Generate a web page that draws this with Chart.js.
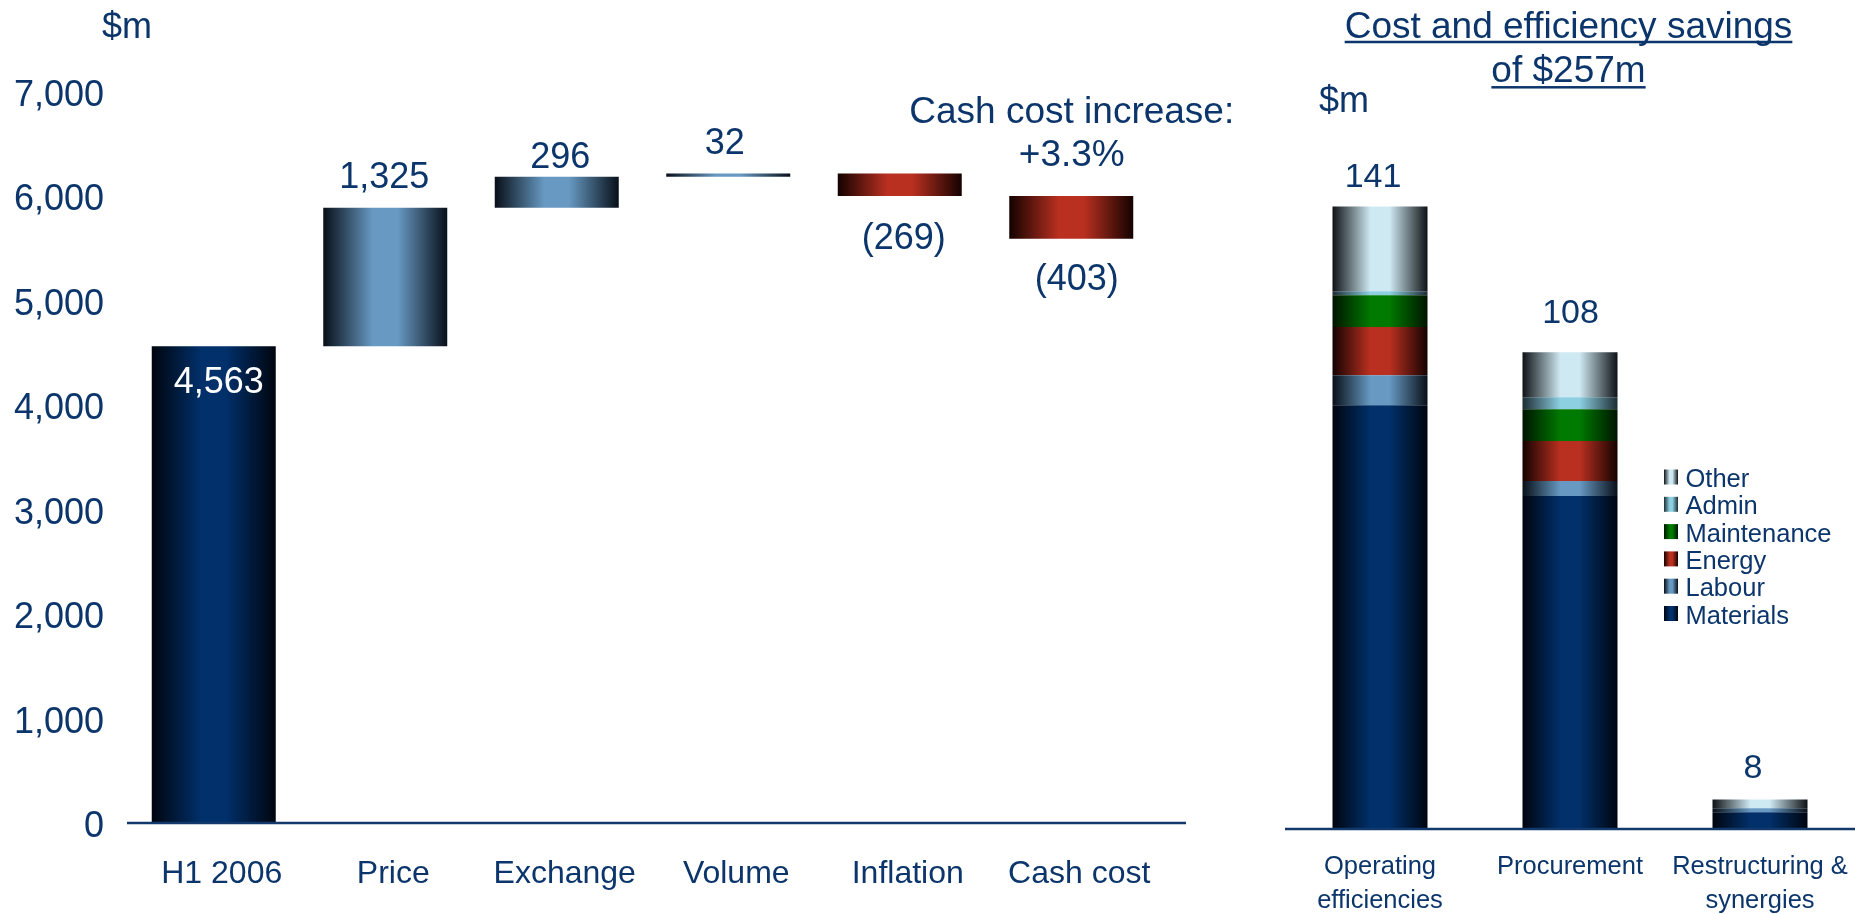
<!DOCTYPE html>
<html>
<head>
<meta charset="utf-8">
<script src="https://cdn.jsdelivr.net/npm/chart.js@4.4.1/dist/chart.umd.min.js"></script>
<style>
html,body{margin:0;padding:0;background:#ffffff;overflow:hidden;}
#wrap{position:relative;width:1855px;height:914px;}
canvas{position:absolute;top:0;}
#leftChart{left:0;width:1240px;height:914px;}
#rightChart{left:1240px;width:615px;height:914px;}
</style>
</head>
<body>
<div id="wrap">
<canvas id="leftChart" width="1240" height="914"></canvas>
<canvas id="rightChart" width="615" height="914"></canvas>
</div>
<script>
// ---------- DATA: waterfall (left) ----------
const categories = ['H1 2006', 'Price', 'Exchange', 'Volume', 'Inflation', 'Cash cost'];
const barStart = [0, 4563, 5888, 6184, 6216, 6000];
const barEnd = [4563, 5888, 6184, 6216, 6000, 5590];
const valueLabels = ['4,563', '1,325', '296', '32', '(269)', '(403)'];
const noteLines = ['Cash cost increase:', '+3.3%'];
const unitLabel = '$m';
const yAxisMax = 7000;
const yAxisStep = 1000;

// ---------- DATA: savings (right) ----------
const savingsCategories = [['Operating', 'efficiencies'], 'Procurement', ['Restructuring &', 'synergies']];
const seriesNames = ['Materials', 'Labour', 'Energy', 'Maintenance', 'Admin', 'Other'];
const materials = [96.0, 75.4, 3.8];
const labour = [6.8, 3.4, 0.9];
const energy = [10.9, 9.1, 0];
const maintenance = [7.2, 7.2, 0];
const admin = [0.9, 2.7, 0];
const other = [19.2, 10.2, 2.0];
const savingsTotals = ['141', '108', '8'];
const savingsTitle = ['Cost and efficiency savings', 'of $257m'];
const savingsAxisMax = 160;

// ---------- STYLE ----------
const FONT = '"Liberation Sans", Arial, Helvetica, sans-serif';
const TEXT = '#0b356b';
const AXIS = '#12386c';
const PAL = {
  navy:  ['#01306a', '#00050e'],
  blue:  ['#6799c2', '#080f18'],
  red:   ['#ba3020', '#140200'],
  green: ['#007a00', '#001400'],
  admin: ['#8dd0e2', '#1c2c34'],
  other: ['#cfe9f2', '#0e1216']
};
const leftPalette = [PAL.navy, PAL.blue, PAL.blue, PAL.blue, PAL.red, PAL.red];
const rightPalette = [PAL.navy, PAL.blue, PAL.red, PAL.green, PAL.admin, PAL.other];

Chart.defaults.font.family = FONT;
Chart.defaults.color = TEXT;

function makeGrad(ctx, x0, x1, pal) {
  const g = ctx.createLinearGradient(x0, 0, x1, 0);
  g.addColorStop(0, pal[1]);
  g.addColorStop(0.4, pal[0]);
  g.addColorStop(0.6, pal[0]);
  g.addColorStop(1, pal[1]);
  return g;
}
function gradFill(getPal, pct) {
  return (c) => {
    const chart = c.chart, area = chart.chartArea, i = c.dataIndex;
    const pal = getPal(i === undefined ? 0 : i);
    if (!area || i === undefined || !chart.scales || !chart.scales.x) return pal[0];
    const xs = chart.scales.x;
    const cx = xs.getPixelForValue(i);
    const bw = xs.width / chart.data.labels.length * pct;
    return makeGrad(chart.ctx, cx - bw / 2, cx + bw / 2, pal);
  };
}

// ---------- LEFT CHART ----------
const LEFT_PCT = 0.723;
const leftDecor = {
  id: 'leftDecor',
  afterDatasetsDraw(chart, args, opts) {
    const ctx = chart.ctx, area = chart.chartArea;
    ctx.save();
    ctx.strokeStyle = AXIS; ctx.lineWidth = 2.5;
    ctx.beginPath();
    ctx.moveTo(area.left - 1, area.bottom);
    ctx.lineTo(area.right + opts.axisExtend, area.bottom);
    ctx.stroke();
    const meta = chart.getDatasetMeta(0);
    ctx.textAlign = 'center'; ctx.textBaseline = 'alphabetic';
    ctx.font = '36px ' + FONT;
    meta.data.forEach((bar, i) => {
      const s = opts.styles[i];
      const top = Math.min(bar.y, bar.base), bot = Math.max(bar.y, bar.base);
      ctx.fillStyle = s.color || TEXT;
      ctx.fillText(valueLabels[i], bar.x + s.dx, (s.anchor === 'top' ? top : bot) + s.dy);
    });
    const cb = meta.data[categories.length - 1];
    const cTop = Math.min(cb.y, cb.base);
    ctx.fillStyle = TEXT;
    ctx.font = '37px ' + FONT;
    ctx.fillText(noteLines[0], cb.x + 0.5, cTop - 73.5);
    ctx.fillText(noteLines[1], cb.x + 0.5, cTop - 30.5);
    ctx.textAlign = 'left';
    ctx.font = '36px ' + FONT;
    ctx.fillText(unitLabel, 102, 38);
    ctx.restore();
  }
};

new Chart(document.getElementById('leftChart'), {
  type: 'bar',
  data: {
    labels: categories,
    datasets: [{
      data: barStart.map((s, i) => [s, barEnd[i]]),
      backgroundColor: gradFill(i => leftPalette[i], LEFT_PCT),
      borderWidth: 0,
      barPercentage: LEFT_PCT,
      categoryPercentage: 1
    }]
  },
  options: {
    responsive: false,
    devicePixelRatio: 1,
    animation: false,
    events: [],
    layout: { padding: { top: 91.5, right: 83, bottom: 0, left: 0 } },
    plugins: {
      legend: { display: false },
      tooltip: { enabled: false },
      leftDecor: {
        axisExtend: 29,
        styles: [
          { anchor: 'top', dx: 5, dy: 47, color: '#ffffff' },
          { anchor: 'top', dx: -1, dy: -20 },
          { anchor: 'top', dx: 3.5, dy: -9 },
          { anchor: 'top', dx: -3.5, dy: -19 },
          { anchor: 'bottom', dx: 4, dy: 52.5 },
          { anchor: 'bottom', dx: 5.5, dy: 51.5 }
        ]
      }
    },
    scales: {
      x: {
        grid: { display: false, drawTicks: false },
        border: { display: false },
        ticks: { font: { size: 32 }, padding: 32, labelOffset: 8, color: TEXT, maxRotation: 0, autoSkip: false },
        afterFit: (s) => { s.height = 91; s.paddingLeft = 0; s.paddingRight = 0; }
      },
      y: {
        min: 0, max: yAxisMax,
        grid: { display: false, drawTicks: false },
        border: { display: false },
        ticks: { stepSize: yAxisStep, font: { size: 36 }, padding: 24, labelOffset: 4.5, color: TEXT },
        afterFit: (s) => { s.width = 128; }
      }
    }
  },
  plugins: [leftDecor]
});

// ---------- RIGHT CHART ----------
const RIGHT_PCT = 0.5;
const rightDecor = {
  id: 'rightDecor',
  afterDatasetsDraw(chart, args, opts) {
    const ctx = chart.ctx, area = chart.chartArea, xs = chart.scales.x, ys = chart.scales.y;
    ctx.save();
    ctx.strokeStyle = AXIS; ctx.lineWidth = 2.5;
    ctx.beginPath();
    ctx.moveTo(area.left, area.bottom);
    ctx.lineTo(area.right, area.bottom);
    ctx.stroke();
    ctx.fillStyle = TEXT; ctx.textAlign = 'center'; ctx.textBaseline = 'alphabetic';
    ctx.font = '34px ' + FONT;
    savingsCategories.forEach((c, i) => {
      let sum = 0;
      chart.data.datasets.forEach(d => { sum += d.data[i]; });
      const s = opts.totals[i];
      ctx.fillText(savingsTotals[i], xs.getPixelForValue(i) + s.dx, ys.getPixelForValue(sum) + s.dy);
    });
    ctx.font = '37px ' + FONT;
    savingsTitle.forEach((t, k) => {
      const cx = opts.titleX, by = opts.titleBase[k];
      ctx.fillText(t, cx, by);
      const w = ctx.measureText(t).width;
      ctx.fillRect(cx - w / 2, opts.titleUnder[k] - 1.25, w, 2.5);
    });
    ctx.textAlign = 'left';
    ctx.font = '36px ' + FONT;
    ctx.fillText(unitLabel, opts.unitX, opts.unitY);
    ctx.font = '25.5px ' + FONT;
    const ds = chart.data.datasets.slice().reverse();
    const pals = rightPalette.slice().reverse();
    ds.forEach((d, k) => {
      const by = opts.legendY + k * opts.legendStep;
      const mx = opts.legendX;
      ctx.fillStyle = makeGrad(ctx, mx, mx + 14, pals[k]);
      ctx.fillRect(mx, by - 17.5, 14, 15);
      ctx.fillStyle = TEXT;
      ctx.fillText(d.label, mx + 21.5, by);
    });
    ctx.restore();
  }
};

const seriesData = [materials, labour, energy, maintenance, admin, other];
new Chart(document.getElementById('rightChart'), {
  type: 'bar',
  data: {
    labels: savingsCategories,
    datasets: seriesNames.map((name, k) => ({
      label: name,
      data: seriesData[k],
      backgroundColor: gradFill(() => rightPalette[k], RIGHT_PCT),
      borderWidth: 0,
      barPercentage: RIGHT_PCT,
      categoryPercentage: 1
    }))
  },
  options: {
    responsive: false,
    devicePixelRatio: 1,
    animation: false,
    events: [],
    layout: { padding: { top: 122.6, right: 0, bottom: 0, left: 45 } },
    plugins: {
      legend: { display: false },
      tooltip: { enabled: false },
      rightDecor: {
        totals: [{ dx: -7, dy: -19 }, { dx: 0.5, dy: -29 }, { dx: -7, dy: -21 }],
        titleX: 328.5,
        titleBase: [38, 82],
        titleUnder: [42, 87.3],
        unitX: 79,
        unitY: 112,
        legendX: 424,
        legendY: 487,
        legendStep: 27.3
      }
    },
    scales: {
      x: {
        stacked: true,
        grid: { display: false, drawTicks: false },
        border: { display: false },
        ticks: { font: { size: 25.5, lineHeight: 1.32 }, padding: 21.5, color: TEXT, maxRotation: 0, autoSkip: false },
        afterFit: (s) => { s.height = 85; s.paddingLeft = 0; s.paddingRight = 0; }
      },
      y: {
        stacked: true,
        display: false,
        min: 0, max: savingsAxisMax
      }
    }
  },
  plugins: [rightDecor]
});
</script>
</body>
</html>
